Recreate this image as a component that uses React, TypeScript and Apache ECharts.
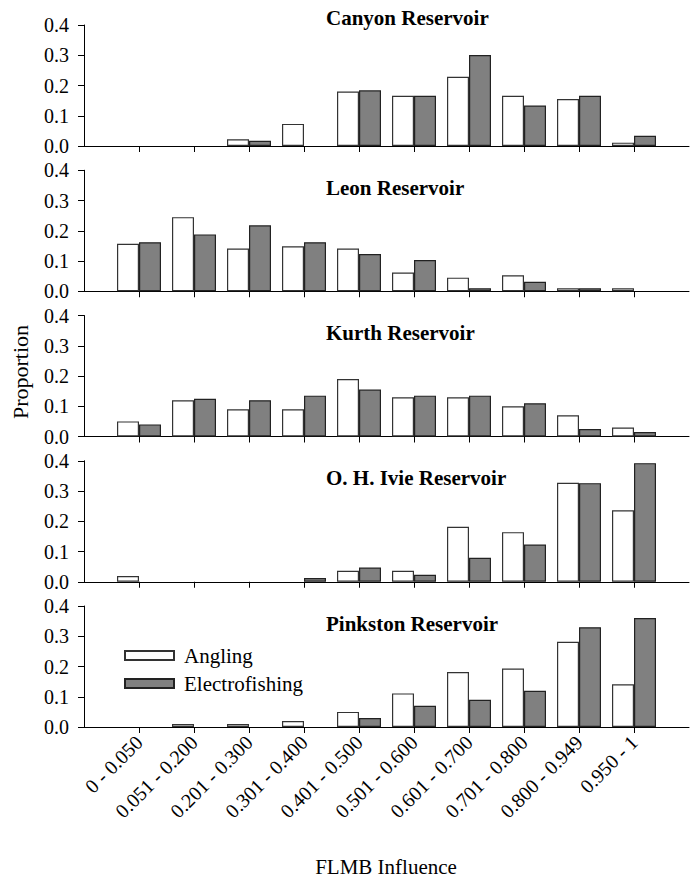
import React, { useEffect, useRef } from "react";
import * as echarts from "echarts";

const categories = [
  "0 - 0.050",
  "0.051 - 0.200",
  "0.201 - 0.300",
  "0.301 - 0.400",
  "0.401 - 0.500",
  "0.501 - 0.600",
  "0.601 - 0.700",
  "0.701 - 0.800",
  "0.800 - 0.949",
  "0.950 - 1",
];

const reservoirs = [
  "Canyon Reservoir",
  "Leon Reservoir",
  "Kurth Reservoir",
  "O. H. Ivie Reservoir",
  "Pinkston Reservoir",
];

const canyonAngling = [0, 0, 0.022, 0.073, 0.18, 0.166, 0.229, 0.166, 0.155, 0.011];
const canyonElectro = [0, 0, 0.017, 0, 0.184, 0.166, 0.301, 0.134, 0.166, 0.034];

const leonAngling = [0.157, 0.245, 0.141, 0.149, 0.141, 0.062, 0.045, 0.053, 0.01, 0.01];
const leonElectro = [0.162, 0.188, 0.218, 0.162, 0.123, 0.103, 0.01, 0.031, 0.01, 0];

const kurthAngling = [0.05, 0.12, 0.09, 0.09, 0.19, 0.13, 0.13, 0.1, 0.07, 0.03];
const kurthElectro = [0.04, 0.125, 0.12, 0.135, 0.155, 0.135, 0.135, 0.11, 0.025, 0.015];

const ivieAngling = [0.019, 0, 0, 0, 0.036, 0.036, 0.182, 0.164, 0.327, 0.236];
const ivieElectro = [0, 0, 0, 0.012, 0.047, 0.023, 0.079, 0.123, 0.326, 0.392];

const pinkstonAngling = [0, 0.01, 0.01, 0.02, 0.05, 0.111, 0.182, 0.193, 0.282, 0.141];
const pinkstonElectro = [0, 0, 0, 0, 0.03, 0.07, 0.09, 0.12, 0.33, 0.36];

const yTicks = [0, 0.1, 0.2, 0.3, 0.4];

const anglingSets = [canyonAngling, leonAngling, kurthAngling, ivieAngling, pinkstonAngling];
const electroSets = [canyonElectro, leonElectro, kurthElectro, ivieElectro, pinkstonElectro];

const FONT = "Liberation Serif";
const titleCenters = [18, 188, 333, 478, 624];

export default function App() {
  const ref = useRef<HTMLDivElement>(null);

  useEffect(() => {
    if (!ref.current) return;
    const chart = echarts.init(ref.current, undefined, { renderer: "svg" });
    const axisCats = ["", ...categories, ""];
    const inner = (i: number) => i > 0 && i < axisCats.length - 1;
    const toData = (vals: number[]) => ["-", ...vals.map((v) => (v === 0 ? "-" : v)), "-"];
    const grids: any[] = [];
    const xAxes: any[] = [];
    const yAxes: any[] = [];
    const series: any[] = [];
    const titles: any[] = [];
    reservoirs.forEach((name, p) => {
      const top = 25 + 145.25 * p;
      grids.push({ left: 84, right: 10, top, height: 121 });
      const last = p === reservoirs.length - 1;
      xAxes.push({
        type: "category",
        gridIndex: p,
        data: axisCats,
        boundaryGap: false,
        axisLine: { show: true, lineStyle: { color: "#000", width: 1 } },
        axisTick: {
          show: true,
          length: 6,
          interval: (i: number) => inner(i),
          lineStyle: { color: "#000" },
        },
        axisLabel: {
          show: last,
          interval: (i: number) => inner(i),
          rotate: 45,
          margin: 12,
          fontSize: 20,
          fontFamily: FONT,
          color: "#000",
        },
        splitLine: { show: false },
      });
      yAxes.push({
        type: "value",
        gridIndex: p,
        min: yTicks[0],
        max: yTicks[yTicks.length - 1],
        interval: 0.1,
        axisLine: { show: true, lineStyle: { color: "#000", width: 1 } },
        axisTick: { show: true, length: 6, lineStyle: { color: "#000" } },
        axisLabel: {
          formatter: (v: number) => v.toFixed(1),
          fontSize: 20,
          fontFamily: FONT,
          color: "#000",
          margin: 15,
        },
        splitLine: { show: false },
      });
      series.push({
        type: "bar",
        name: "Angling",
        xAxisIndex: p,
        yAxisIndex: p,
        data: toData(anglingSets[p]),
        barWidth: "40%",
        barGap: "0%",
        itemStyle: { color: "#ffffff", borderColor: "#333", borderWidth: 1.2 },
      });
      series.push({
        type: "bar",
        name: "Electrofishing",
        xAxisIndex: p,
        yAxisIndex: p,
        data: toData(electroSets[p]),
        barWidth: "40%",
        barGap: "0%",
        itemStyle: { color: "#808080", borderColor: "#222", borderWidth: 1.2 },
      });
      titles.push({
        text: name,
        left: 326,
        top: titleCenters[p] - 11,
        padding: 0,
        textStyle: { fontSize: 21, fontWeight: "bold", fontFamily: FONT, color: "#000" },
      });
    });

    chart.setOption({
      animation: false,
      backgroundColor: "#fff",
      textStyle: { fontFamily: FONT },
      title: titles,
      grid: grids,
      xAxis: xAxes,
      yAxis: yAxes,
      series,
      legend: {
        data: ["Angling", "Electrofishing"],
        orient: "vertical",
        left: 119,
        top: 640,
        itemWidth: 49,
        itemHeight: 9,
        itemGap: 7,
        icon: "rect",
        textStyle: { fontSize: 21, fontFamily: FONT, color: "#000", padding: [0, 0, 0, 5] },
      },
      graphic: [
        {
          type: "text",
          x: 20,
          y: 372,
          rotation: Math.PI / 2,
          style: {
            text: "Proportion",
            fontSize: 22,
            fontFamily: FONT,
            fill: "#000",
            textAlign: "center",
            textVerticalAlign: "middle",
          },
        },
        {
          type: "text",
          x: 386,
          y: 867,
          style: {
            text: "FLMB Influence",
            fontSize: 21,
            fontFamily: FONT,
            fill: "#000",
            textAlign: "center",
            textVerticalAlign: "middle",
          },
        },
      ],
    });
    return () => chart.dispose();
  }, []);

  return (
    <div
      ref={ref}
      style={{ position: "absolute", left: 0, top: 0, width: 699, height: 878 }}
    />
  );
}
